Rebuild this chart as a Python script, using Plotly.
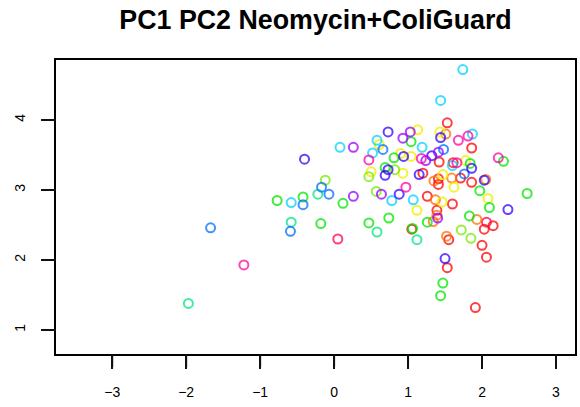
import plotly.graph_objects as go

# PC1 / PC2 scores, grouped by marker colour
cyan_pc1 = [1.74, 1.44, 1.87, 0.58, 0.08, 0.52, 1.19, 1.60, -0.58, 0.78, 1.07]
cyan_pc2 = [4.72, 4.28, 3.80, 3.71, 3.61, 3.53, 3.61, 3.35, 2.82, 2.85, 2.86]

red_pc1 = [1.53, 1.86, 1.42, 1.61, 1.20, 1.41, 1.41, 1.71, 1.86, 1.26, 1.60, 1.39,
           1.05, 2.15, 2.03, 1.55, 2.00, 2.06, 1.53, 1.91]
red_pc2 = [3.96, 3.60, 3.40, 3.39, 3.24, 3.16, 3.08, 3.17, 3.11, 2.91, 2.80, 2.71,
           2.44, 2.49, 2.44, 2.29, 2.21, 2.04, 1.89, 1.32]

rose_pc1 = [0.05, 2.06]
rose_pc2 = [2.30, 2.54]

orange_pc1 = [1.51, 1.35, 1.59, 2.05, 1.37, 1.39, 1.34, 1.93, 1.52]
orange_pc2 = [3.80, 3.13, 3.17, 3.15, 2.86, 2.64, 2.55, 2.58, 2.34]

yellow_pc1 = [1.13, 1.43, 0.61, 0.90, 1.04, 1.78, 0.50, 0.93, 1.47, 1.62, 1.46, 1.12, 2.08]
yellow_pc2 = [3.86, 3.83, 3.65, 3.52, 3.48, 3.42, 3.26, 3.24, 3.22, 3.04, 2.83, 2.71, 2.88]

ygreen_pc1 = [-0.12, 0.47, 0.82, 0.57, 1.72, 1.85]
ygreen_pc2 = [3.14, 3.19, 3.29, 2.98, 2.43, 2.31]

green_pc1 = [1.04, 0.81, 0.69, 2.29, 1.84, 1.97, 2.61, 2.10, 1.83, 1.26, 1.06, -0.18,
             0.47, 0.74, 0.12, -0.42, -0.77, 1.47, 1.44]
green_pc2 = [3.69, 3.46, 3.32, 3.41, 3.38, 2.99, 2.95, 2.75, 2.63, 2.54, 2.45, 2.52,
             2.53, 2.60, 2.81, 2.90, 2.85, 1.67, 1.49]

teal_pc1 = [-0.22, -0.58, 0.58, 1.12, -1.97]
teal_pc2 = [2.94, 2.54, 2.40, 2.29, 1.38]

blue_pc1 = [0.66, 1.48, 1.76, -0.17, -0.07, -0.42, -0.59, -1.67]
blue_pc2 = [3.58, 3.58, 3.23, 3.04, 2.94, 2.79, 2.41, 2.46]

bviolet_pc1 = [0.73, 1.44, -0.40, 0.94, 1.32, 1.86, 0.73, 0.69, 1.15, 2.03, 0.88, 2.35, 1.50]
bviolet_pc2 = [3.83, 3.75, 3.44, 3.48, 3.49, 3.31, 3.29, 3.21, 3.22, 3.14, 2.94, 2.72, 2.02]

violet_pc1 = [1.03, 0.93, 0.26, 1.41, 1.24, 0.26, 0.64, 1.40]
violet_pc2 = [3.83, 3.74, 3.61, 3.54, 3.42, 2.91, 2.94, 2.60]

pink_pc1 = [1.68, 1.81, 0.47, 1.18, 1.66, 2.22, 0.97, -1.22]
pink_pc2 = [3.71, 3.77, 3.43, 3.45, 3.39, 3.46, 3.04, 1.93]

x_ticks = [-3, -2, -1, 0, 1, 2, 3]
y_ticks = [1, 2, 3, 4]
title_text = "PC1 PC2 Neomycin+ColiGuard"

X_RANGE = [-3.76, 3.257]
Y_RANGE = [0.657, 4.857]

groups = [
    (red_pc1, red_pc2, "rgba(255,0,0,0.75)"),
    (rose_pc1, rose_pc2, "rgba(255,0,70,0.75)"),
    (orange_pc1, orange_pc2, "rgba(255,110,0,0.75)"),
    (yellow_pc1, yellow_pc2, "rgba(240,240,0,0.8)"),
    (ygreen_pc1, ygreen_pc2, "rgba(120,235,0,0.75)"),
    (green_pc1, green_pc2, "rgba(0,230,0,0.75)"),
    (teal_pc1, teal_pc2, "rgba(0,230,130,0.75)"),
    (cyan_pc1, cyan_pc2, "rgba(0,210,255,0.75)"),
    (blue_pc1, blue_pc2, "rgba(0,110,255,0.75)"),
    (bviolet_pc1, bviolet_pc2, "rgba(50,0,255,0.75)"),
    (violet_pc1, violet_pc2, "rgba(150,0,255,0.75)"),
    (pink_pc1, pink_pc2, "rgba(255,0,170,0.75)"),
]

fig = go.Figure()
for xs, ys, col in groups:
    fig.add_trace(go.Scatter(
        x=xs, y=ys, mode="markers",
        marker=dict(symbol="circle-open", size=9, color=col, line=dict(width=2, color=col)),
        showlegend=False, hoverinfo="skip",
    ))

font_family = "Liberation Sans, Arial, Helvetica, sans-serif"
TICK_LEN = 13
TICK_COLOR = "rgb(17,17,17)"

fig.update_layout(
    width=580, height=407,
    margin=dict(l=56, r=5, t=60, b=53, autoexpand=False),
    paper_bgcolor="white", plot_bgcolor="white",
    title=dict(text="<b>" + title_text + "</b>", x=0.544, xanchor="center",
               y=0.951, yanchor="middle", yref="container",
               font=dict(family=font_family, size=26.8, color="black")),
)
fig.update_xaxes(range=X_RANGE, tickmode="array", tickvals=x_ticks)
fig.update_yaxes(range=Y_RANGE, tickmode="array", tickvals=y_ticks, tickangle=-90)
fig.update_xaxes(ticklabelstandoff=11)
fig.update_yaxes(ticklabelstandoff=11)
for upd in (fig.update_xaxes, fig.update_yaxes):
    upd(
        showgrid=False, zeroline=False, showline=True, mirror=True,
        linecolor="black", linewidth=1.5,
        ticks="outside", ticklen=TICK_LEN, tickwidth=2, tickcolor=TICK_COLOR,
        tickfont=dict(family=font_family, size=14, color="black"),
    )

# R-style outward tick marks, placed at the tick values along each axis range
for v in x_ticks:
    px = (v - X_RANGE[0]) / (X_RANGE[1] - X_RANGE[0])
    fig.add_shape(type="line", xref="paper", x0=px, x1=px,
                  yref="paper", ysizemode="pixel", yanchor=0, y0=0, y1=-TICK_LEN,
                  line=dict(color=TICK_COLOR, width=2))
for v in y_ticks:
    py = (v - Y_RANGE[0]) / (Y_RANGE[1] - Y_RANGE[0])
    fig.add_shape(type="line", yref="paper", y0=py, y1=py,
                  xref="paper", xsizemode="pixel", xanchor=0, x0=0, x1=-TICK_LEN,
                  line=dict(color=TICK_COLOR, width=2))

fig.write_html("out.html", config={"displayModeBar": False},
               post_script="document.body.style.margin='0';")
